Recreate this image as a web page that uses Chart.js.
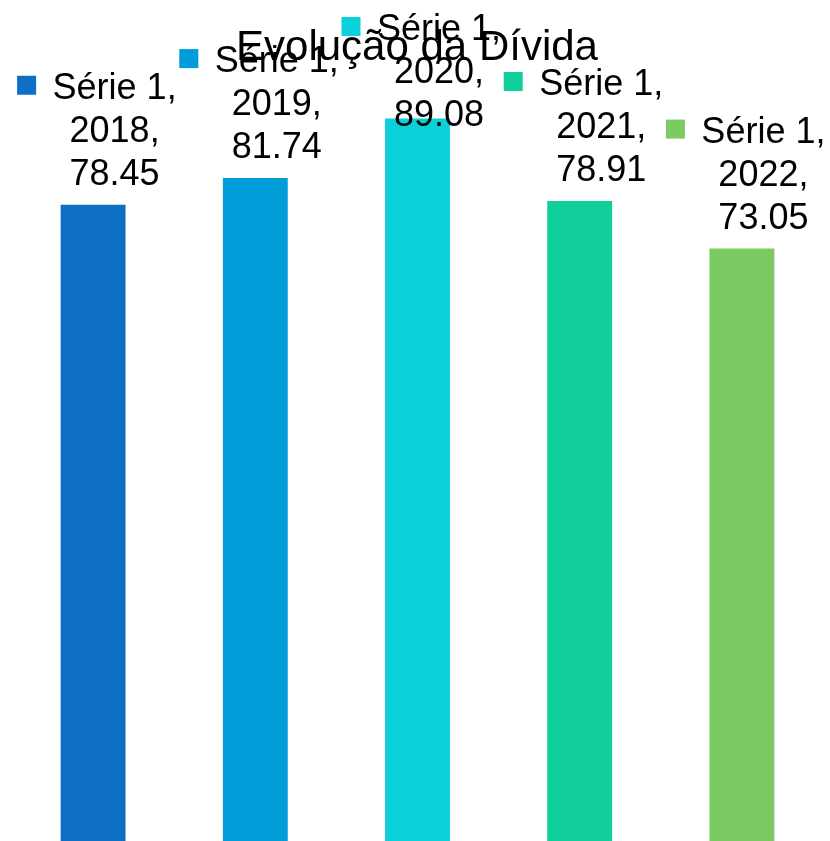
<!DOCTYPE html>
<html>
<head>
<meta charset="utf-8">
<script src="https://cdn.jsdelivr.net/npm/chart.js@4/dist/chart.umd.min.js"></script>
<style>
    html, body { margin: 0; padding: 0; background: #fff; overflow: hidden; }
    #wrap { width: 830px; height: 841px; position: relative; }
</style>
</head>
<body>
<div id="wrap"><canvas id="dividaChart"></canvas></div>
<script>
const chartTitle = 'Evolução da Dívida';
const seriesName = 'Série 1';
const years = ['2018', '2019', '2020', '2021', '2022'];
const divida = [78.45, 81.74, 89.08, 78.91, 73.05];
const barColors = ['#0F6FC6', '#009DD9', '#0BD0D9', '#10CF9B', '#7CCA62'];

const FONT = '"Liberation Sans", Arial, sans-serif';

// Title drawn by hand so it does not push the plot area down
const titlePlugin = {
    id: 'overlayTitle',
    afterDraw(chart) {
        const ctx = chart.ctx;
        ctx.save();
        ctx.font = '42px ' + FONT;
        ctx.fillStyle = '#000';
        ctx.textAlign = 'center';
        ctx.textBaseline = 'alphabetic';
        ctx.fillText(chartTitle, chart.width / 2 + 2, 60);
        ctx.restore();
    }
};

// Data labels: coloured square + "Série 1, / year, / value"
const labelPlugin = {
    id: 'barLabels',
    afterDatasetsDraw(chart) {
        const ctx = chart.ctx;
        const meta = chart.getDatasetMeta(0);
        ctx.save();
        ctx.font = '36px ' + FONT;
        ctx.fillStyle = '#000';
        ctx.textBaseline = 'alphabetic';
        ctx.textAlign = 'center';
        meta.data.forEach((bar, i) => {
            const lines = [seriesName + ',', years[i] + ',', divida[i].toFixed(2)];
            let first = bar.y - 20 - 2 * 43;
            if (first < 40) first = 40;
            const textCenter = bar.x + 21.5;
            // marker
            ctx.fillStyle = barColors[i];
            ctx.fillRect(bar.x - 76, first - 23, 19, 19);
            ctx.fillStyle = '#000';
            lines.forEach((t, k) => {
                ctx.fillText(t, textCenter, first + k * 43);
            });
        });
        ctx.restore();
    }
};

new Chart(document.getElementById('dividaChart'), {
    type: 'bar',
    data: {
        labels: years,
        datasets: [{
            label: seriesName,
            data: divida,
            backgroundColor: barColors,
            borderWidth: 0,
            barPercentage: 0.8,
            categoryPercentage: 0.5
        }]
    },
    options: {
        responsive: true,
        maintainAspectRatio: false,
        animation: false,
        layout: {
            padding: { left: 12, right: 7, top: 30, bottom: 0 }
        },
        plugins: {
            legend: { display: false },
            title: { display: false },
            tooltip: { enabled: false }
        },
        scales: {
            x: { display: false },
            y: { display: false, min: 0, max: 100 }
        }
    },
    plugins: [labelPlugin, titlePlugin]
});
</script>
</body>
</html>
